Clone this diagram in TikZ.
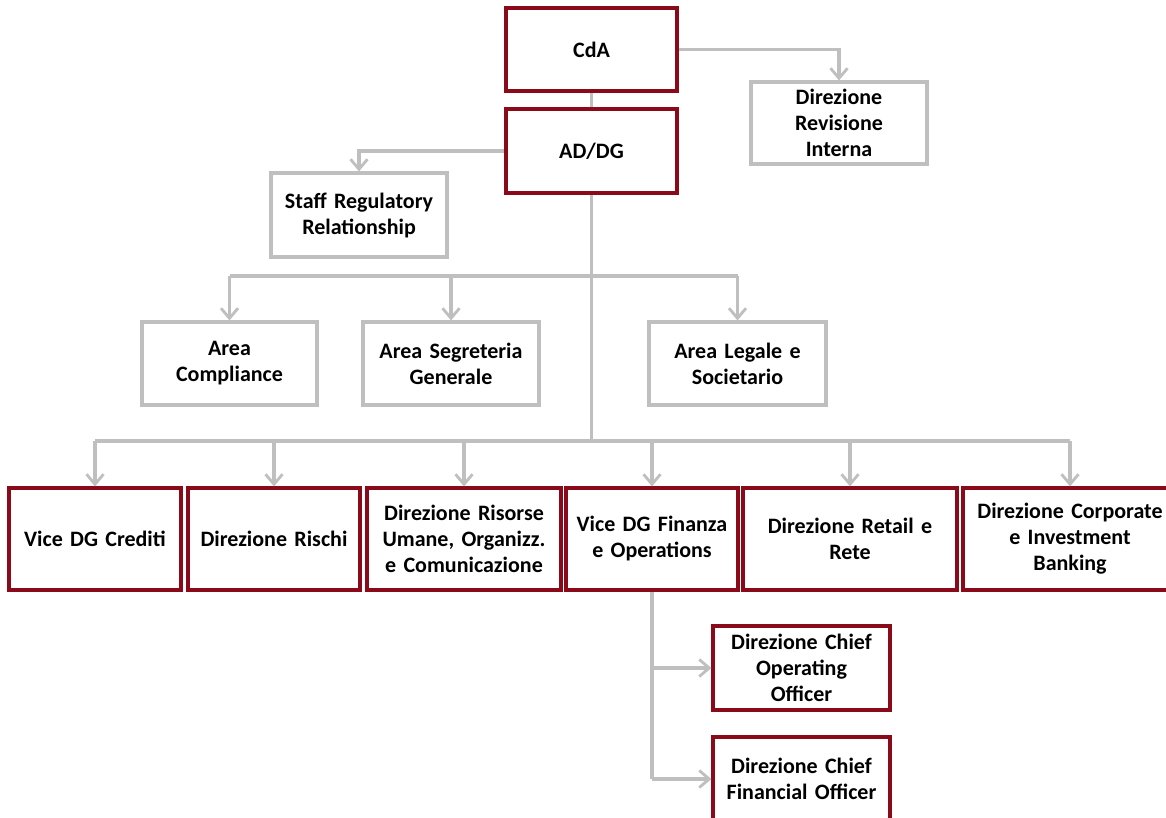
\documentclass[tikz,border=0pt]{standalone}
\usepackage{fontspec}
\setmainfont[WordSpace=0.7]{Carlito}
\usetikzlibrary{arrows.meta}
\definecolor{boxred}{HTML}{8B0A1A}
\definecolor{linegray}{HTML}{BFBFBF}
\tikzset{
  base/.style={rectangle, fill=white, line width=3.2pt, align=center,
    font=\fontsize{22}{26}\selectfont\bfseries, inner sep=2pt},
  redbox/.style={base, draw=boxred},
  graybox/.style={base, draw=linegray},
  conn/.style={draw=linegray, line width=3.2pt},
  arr/.style={conn, -{Straight Barb[length=10pt,width=17pt,line width=2.8pt]}}
}
\begin{document}
\begin{tikzpicture}[x=1pt,y=-1pt]
\useasboundingbox (0,0) rectangle (1166,817);
\clip (0,0) rectangle (1166,817);
\fill[white] (0,0) rectangle (1166,817);

% top
\node[redbox, minimum width=171pt, minimum height=83pt, text width=160pt] (cda) at (591.5,49.5) {CdA};
\node[graybox, minimum width=176pt, minimum height=82pt, text width=165pt] (rev) at (839,123) {Direzione\\Revisione\\Interna};
\node[redbox, minimum width=171pt, minimum height=84pt, text width=160pt] (ad) at (591.5,151) {AD/DG};
\node[graybox, minimum width=176pt, minimum height=84pt, text width=170pt] (staff) at (359,215) {Staff Regulatory\\Relationship};

% areas
\node[graybox, minimum width=175pt, minimum height=83pt, text width=170pt] (comp) at (229.5,363.5) {Area\\Compliance};
\node[graybox, minimum width=176pt, minimum height=83pt, text width=170pt] (segr) at (451,363.5) {Area Segreteria\\Generale};
\node[graybox, minimum width=177pt, minimum height=83pt, text width=170pt] (leg) at (737.5,363.5) {Area Legale e\\Societario};

% row
\node[redbox, minimum width=172pt, minimum height=102pt, text width=168pt] (vcred) at (95,539) {Vice DG Crediti};
\node[redbox, minimum width=172pt, minimum height=102pt, text width=168pt] (risch) at (274,539) {Direzione Rischi};
\node[redbox, minimum width=194pt, minimum height=102pt, text width=190pt] (risor) at (464,539) {Direzione Risorse\\Umane, Organizz.\\e Comunicazione};
\node[redbox, minimum width=172pt, minimum height=102pt, text width=168pt] (vfin) at (652,539) {Vice DG Finanza\\e Operations};
\node[redbox, minimum width=214pt, minimum height=102pt, text width=205pt] (retail) at (850,539) {Direzione Retail e\\Rete};
\node[redbox, minimum width=214pt, minimum height=102pt, text width=205pt] (corp) at (1070,539) {Direzione Corporate\\e Investment\\Banking};

% sub
\node[redbox, minimum width=177pt, minimum height=84pt, text width=172pt] (coo) at (801.5,668) {Direzione Chief\\Operating\\Officer};
\node[redbox, minimum width=177pt, minimum height=84pt, text width=172pt] (cfo) at (801.5,779) {Direzione Chief\\Financial Officer};

% junctions
\coordinate (j1) at (591.5,276);
\coordinate (j2) at (591.5,441);
\coordinate (j3) at (652,779);

% connectors
\draw[conn] (cda.south) -- (ad.north);
\draw[arr] (cda.east) -| (rev.north);
\draw[arr] (ad.west) -| (staff.north);
\draw[conn] (ad.south) -- (j2);
\draw[conn] (comp.north |- j1) -- (leg.north |- j1);
\draw[arr] (comp.north |- j1) -- (comp.north);
\draw[arr] (segr.north |- j1) -- (segr.north);
\draw[arr] (leg.north |- j1) -- (leg.north);
\draw[conn] (vcred.north |- j2) -- (corp.north |- j2);
\draw[arr] (vcred.north |- j2) -- (vcred.north);
\draw[arr] (risch.north |- j2) -- (risch.north);
\draw[arr] (risor.north |- j2) -- (risor.north);
\draw[arr] (vfin.north |- j2) -- (vfin.north);
\draw[arr] (retail.north |- j2) -- (retail.north);
\draw[arr] (corp.north |- j2) -- (corp.north);
\draw[conn] (vfin.south) -- (j3);
\draw[arr] (vfin.south |- coo.west) -- (coo.west);
\draw[arr] (j3) -- (cfo.west);
\end{tikzpicture}
\end{document}
